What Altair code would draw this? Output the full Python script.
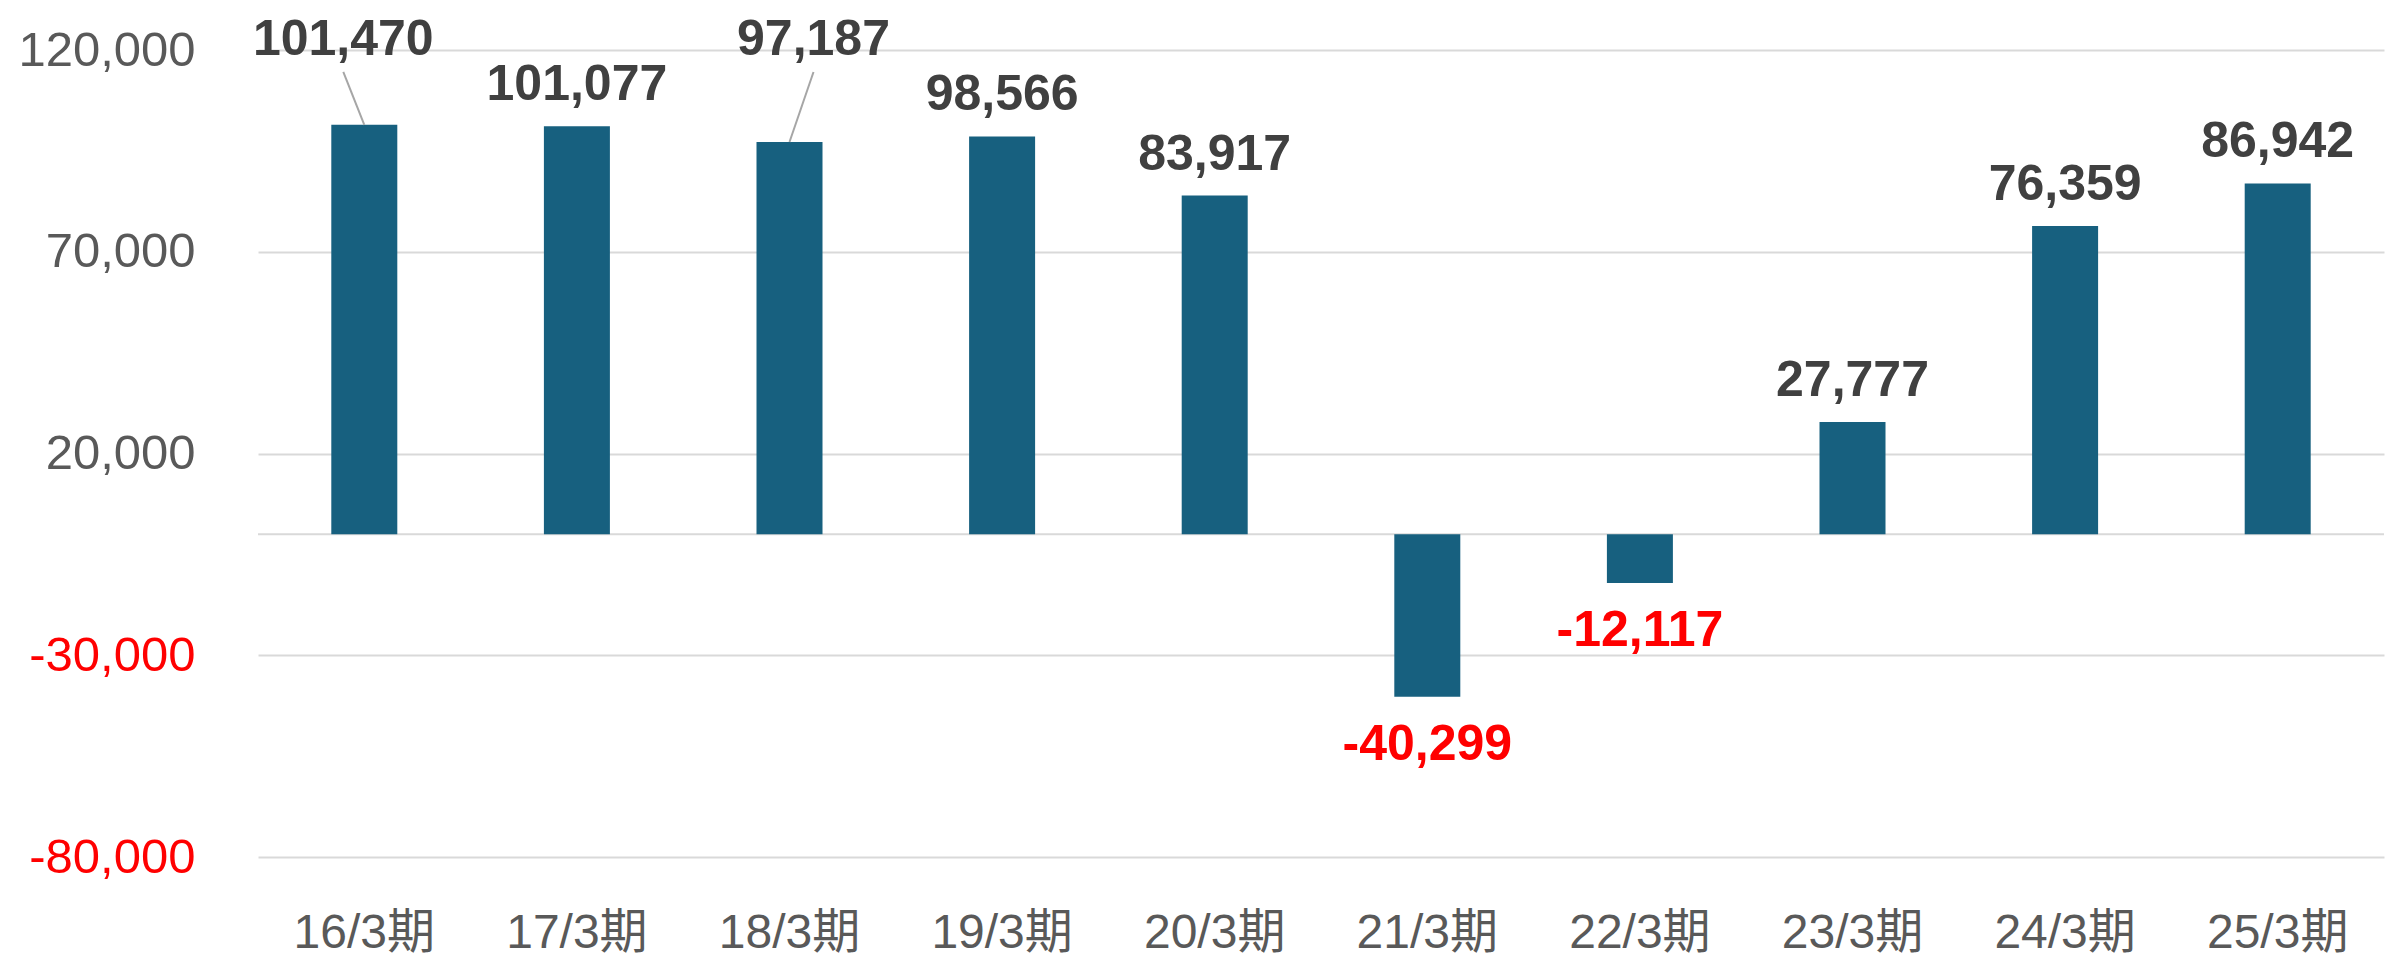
import altair as alt
import pandas as pd

periods = ["16/3期", "17/3期", "18/3期", "19/3期", "20/3期",
           "21/3期", "22/3期", "23/3期", "24/3期", "25/3期"]
values = [101470, 101077, 97187, 98566, 83917, -40299, -12117, 27777, 76359, 86942]
y_ticks = [-80000, -30000, 20000, 70000, 120000]

df = pd.DataFrame({"period": periods, "value": values})
df["label"] = [f"{v:,}" for v in values]
df["idx"] = range(len(periods))

FONT = "Liberation Sans, Arial, Noto Sans CJK JP, sans-serif"
BAR = "#17607f"
GRID = "#d9d9d9"

x_axis = alt.Axis(title=None, labelAngle=0, domain=False, ticks=False, tickSize=0,
                  labelPadding=52, labelFontSize=48, labelColor="#595959",
                  labelFont=FONT, grid=False)
y_axis = alt.Axis(title=None, values=y_ticks, grid=True, gridColor=GRID, gridWidth=2,
                  domain=False, ticks=False, tickSize=0, labelPadding=63,
                  labelFontSize=49, labelFont=FONT,
                  labelExpr="(datum.value < 0 ? '-' : '') + format(abs(datum.value), ',')",
                  labelColor={"expr": "datum.value < 0 ? '#ff0000' : '#595959'"})
y_scale = alt.Scale(domain=[-80000, 120000], nice=False, zero=False)

x_enc = alt.X("period:N", sort=periods,
              scale=alt.Scale(paddingInner=0, paddingOuter=0), axis=x_axis)
y_enc = alt.Y("value:Q", scale=y_scale, axis=y_axis)

base = alt.Chart(df).encode(x=x_enc, y=y_enc)

zero_rule = alt.Chart(pd.DataFrame({"value": [0]})).mark_rule(
    color=GRID, strokeWidth=2
).encode(y=alt.Y("value:Q", scale=y_scale, axis=y_axis))

bars = base.mark_bar(size=66, color=BAR)

txt_style = dict(font=FONT, fontSize=50, fontWeight="bold", align="center", baseline="alphabetic")

pos_labels = base.mark_text(color="#404040", dy=-26, **txt_style).encode(
    text="label:N").transform_filter("datum.value >= 0 && datum.idx != 0 && datum.idx != 2")
neg_labels = base.mark_text(color="#ff0000", dy=63, **txt_style).encode(
    text="label:N").transform_filter("datum.value < 0")
lab1 = base.mark_text(color="#404040", dy=-70, dx=-21, **txt_style).encode(
    text="label:N").transform_filter("datum.idx == 0")
lab3 = base.mark_text(color="#404040", dy=-87, dx=24, **txt_style).encode(
    text="label:N").transform_filter("datum.idx == 2")

lead1 = base.mark_rule(color="#a6a6a6", strokeWidth=2, x2Offset=-21, y2Offset=-53).encode(
    x2="period:N", y2="value:Q").transform_filter("datum.idx == 0")
lead3 = base.mark_rule(color="#a6a6a6", strokeWidth=2, x2Offset=24, y2Offset=-70).encode(
    x2="period:N", y2="value:Q").transform_filter("datum.idx == 2")

chart = alt.layer(
    zero_rule, bars, lead1, lead3, pos_labels, neg_labels, lab1, lab3
).properties(
    width=2126, height=807,
    autosize=alt.AutoSizeParams(type="none"),
    padding={"left": 250, "top": 42, "right": 13, "bottom": 101},
    background="white",
).configure_view(stroke=None)

chart.save("out.html", embed_options={"renderer": "svg", "actions": False})
